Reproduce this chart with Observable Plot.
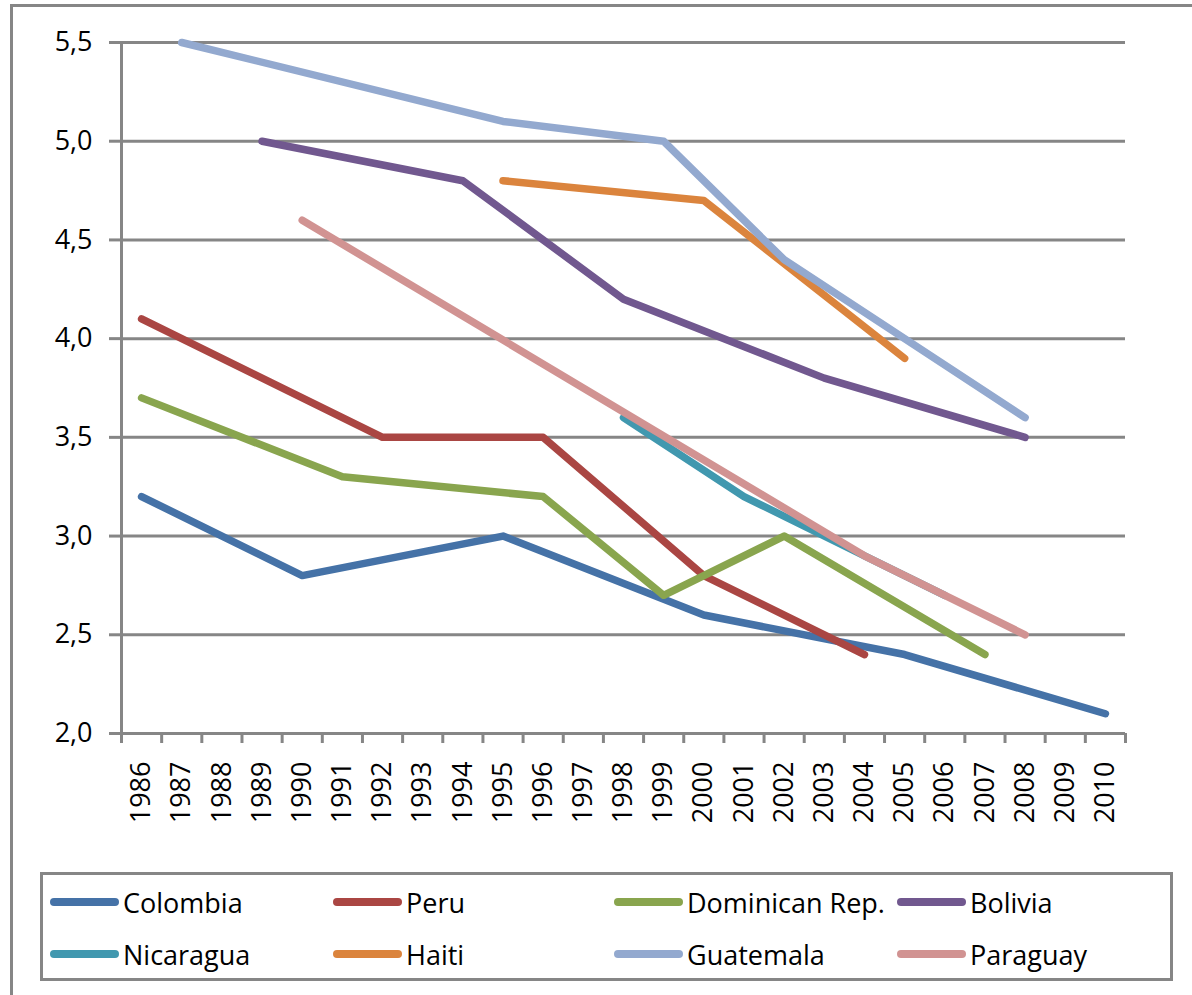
<!DOCTYPE html>
<html><head><meta charset="utf-8">
<script src="https://cdn.jsdelivr.net/npm/d3@7"></script>
<script src="https://cdn.jsdelivr.net/npm/@observablehq/plot@0.6"></script>
<style>
body{margin:0;background:#fff;font-family:"Open Sans",sans-serif;}
#frame{position:absolute;left:10px;top:4px;width:1200px;height:1000px;border-left:3px solid #868686;border-top:3px solid #868686;}
#chart{position:absolute;left:0;top:0;}
#chart svg text{font-size:27px !important;font-family:"Open Sans",sans-serif;}
#legend{position:absolute;left:40px;top:872px;width:1127px;height:103px;border:3px solid #868686;background:#fff;}
.item{position:absolute;display:flex;align-items:center;font-size:27px;color:#000;height:30px;}
.sw{width:69px;height:8px;border-radius:4px;margin-right:4px;}
</style>
</head><body>
<div id="frame"></div>
<div id="chart"></div>
<div id="legend"></div>
<script>
const years = [1986,1987,1988,1989,1990,1991,1992,1993,1994,1995,1996,1997,1998,1999,2000,2001,2002,2003,2004,2005,2006,2007,2008,2009,2010];
const yTicks = [2.0,2.5,3.0,3.5,4.0,4.5,5.0,5.5];
const countries = ["Colombia","Peru","Dominican Rep.","Bolivia","Nicaragua","Haiti","Guatemala","Paraguay"];
const colors = ["#4572A7","#AA4643","#89A54E","#71588F","#4198AF","#DB843D","#93A9CF","#D19392"];

const colombia   = [[1986,3.2],[1990,2.8],[1995,3.0],[2000,2.6],[2005,2.4],[2010,2.1]];
const peru       = [[1986,4.1],[1992,3.5],[1996,3.5],[2000,2.8],[2004,2.4]];
const dominican  = [[1986,3.7],[1991,3.3],[1996,3.2],[1999,2.7],[2002,3.0],[2007,2.4]];
const bolivia    = [[1989,5.0],[1994,4.8],[1998,4.2],[2003,3.8],[2008,3.5]];
const nicaragua  = [[1998,3.6],[2001,3.2],[2006,2.7]];
const haiti      = [[1995,4.8],[2000,4.7],[2005,3.9]];
const guatemala  = [[1987,5.5],[1995,5.1],[1999,5.0],[2002,4.4],[2008,3.6]];
const paraguay   = [[1990,4.6],[2004,2.9],[2008,2.5]];

const seriesList = [colombia,peru,dominican,bolivia,nicaragua,haiti,guatemala,paraguay];
const rows = seriesList.flatMap((s,i)=>s.map(([year,value])=>({country:countries[i],year,value})));
const boundaries = years.map(y=>y-0.5).concat([years[years.length-1]+0.5]);
const gray = "#868686";
const fmt = d => d3.format(".1f")(d).replace(".", ",");

const chart = Plot.plot({
  width: 1192, height: 860,
  marginLeft: 121, marginRight: 67, marginTop: 42, marginBottom: 127,
  style: {fontFamily: "'Open Sans', sans-serif", fontSize: "27px", color: "#000", background: "transparent"},
  x: {domain: [boundaries[0], boundaries[boundaries.length-1]]},
  y: {domain: [2, 5.5]},
  color: {domain: countries, range: colors},
  marks: [
    Plot.ruleY(yTicks, {stroke: gray, strokeWidth: 3}),
    Plot.axisY({ticks: yTicks, tickSize: 12, tickPadding: 17, stroke: gray, strokeWidth: 3, strokeOpacity: 1, tickFormat: fmt, fontSize: 27, label: null}),
    Plot.ruleX([boundaries[0]], {stroke: gray, strokeWidth: 3}),
    Plot.axisX({ticks: boundaries, tickSize: 10, stroke: gray, strokeWidth: 3, strokeOpacity: 1, tickFormat: () => "", label: null}),
    Plot.axisX({ticks: years, tickSize: 0, tickPadding: 28, tickRotate: -90, tickFormat: d => String(d), fontSize: 27, label: null}),
    Plot.line(rows, {x: "year", y: "value", z: "country", stroke: "country", strokeWidth: 7.5, strokeLinecap: "round", strokeLinejoin: "round"})
  ]
});
document.getElementById("chart").appendChild(chart);

const legend = document.getElementById("legend");
const colX = [7, 290, 571, 854];
const rowY = [12, 64];
countries.forEach((c,i)=>{
  const it = document.createElement("div");
  it.className = "item";
  it.style.left = colX[i%4] + "px";
  it.style.top = rowY[Math.floor(i/4)] + "px";
  const sw = document.createElement("span");
  sw.className = "sw";
  sw.style.background = colors[i];
  const tx = document.createElement("span");
  tx.textContent = c;
  it.appendChild(sw); it.appendChild(tx);
  legend.appendChild(it);
});
</script>
</body></html>
